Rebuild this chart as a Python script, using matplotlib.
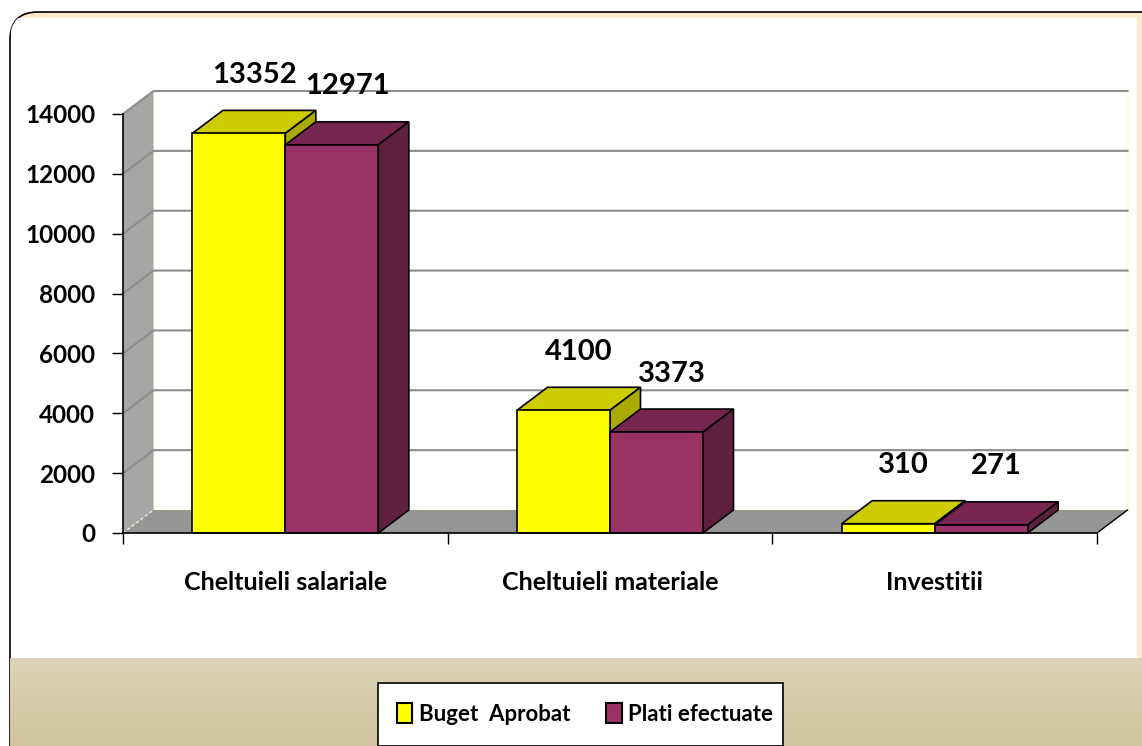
import numpy as np
import matplotlib
matplotlib.use("Agg")
import matplotlib.pyplot as plt
from matplotlib.patches import Polygon, Rectangle, FancyBboxPatch

categories = ["Cheltuieli salariale", "Cheltuieli materiale", "Investitii"]
series_names = ["Buget  Aprobat", "Plati efectuate"]
buget = [13352, 4100, 310]
plati = [12971, 3373, 271]
yticks = [0, 2000, 4000, 6000, 8000, 10000, 12000, 14000]

plt.rcParams['font.family'] = ['Lato', 'DejaVu Sans']
plt.rcParams['font.weight'] = 'bold'

W, H = 1142, 746
fig = plt.figure(figsize=(W / 100, H / 100), dpi=100)

# background panel (pixel coords)
bg = fig.add_axes([0, 0, 1, 1], zorder=0)
bg.set_xlim(0, W)
bg.set_ylim(0, H)
bg.axis("off")
panel = FancyBboxPatch((10, -30), W + 30, H - 12 + 30,
                       boxstyle="round,pad=0,rounding_size=28",
                       facecolor="#fcebd0", edgecolor="black", lw=1.2)
bg.add_patch(panel)
grad = np.linspace(0, 1, 100).reshape(-1, 1)
cmap = matplotlib.colors.LinearSegmentedColormap.from_list("b", ["#d1c39e", "#ddd3b6"])
im = bg.imshow(grad, extent=[0, W, 0, 88], origin="lower", cmap=cmap,
               aspect="auto", zorder=1)
im.set_clip_path(panel)
white = Rectangle((11, 88), 1126, H - 18 - 88, facecolor="white",
                  edgecolor="none", zorder=1.5)
white.set_clip_path(panel)
bg.add_patch(white)
# legend box
bg.add_patch(Rectangle((378, 0), 405, H - 683, facecolor="white",
                       edgecolor="black", lw=1.2, zorder=2))

# chart axes = front plane
ax = fig.add_axes([123 / W, 213 / H, 974 / W, 419 / H], zorder=1)
ax.set_xlim(0, 3)
ax.set_ylim(0, 14000)
ax.patch.set_visible(False)
ymax = 14000

# depth offset in data units
DX = 30.5 / (974 / 3)
DY = 23 * 14000 / 419
bw = 93 / (974 / 3)

# back wall, left wall, floor
ax.add_patch(Polygon([(DX, DY), (3 + DX, DY), (3 + DX, ymax + DY), (DX, ymax + DY)],
                     closed=True, facecolor="white", edgecolor="#fffde0", lw=1.5,
                     clip_on=False, zorder=0.5))
ax.add_patch(Polygon([(0, 0), (DX, DY), (DX, ymax + DY), (0, ymax)], closed=True,
                     facecolor="#a6a6a6", edgecolor="none", clip_on=False, zorder=0.6))
ax.add_patch(Polygon([(0, 0), (3, 0), (3 + DX, DY), (DX, DY)], closed=True,
                     facecolor="#969696", edgecolor="none", clip_on=False, zorder=0.6))
ax.plot([3, 3 + DX], [0, DY], color="black", lw=1, clip_on=False, zorder=0.7)
ax.plot([0, DX], [0, DY], color="#f4f0c8", lw=1, ls=(0, (2, 2)), clip_on=False, zorder=0.7)
ax.plot([0, DX], [ymax, ymax + DY], color="#f4f0c8", lw=1, ls=(0, (2, 2)), clip_on=False, zorder=0.7)
for t in yticks[1:]:
    ax.plot([0, DX, 3 + DX], [t, t + DY, t + DY], color="#8c8c8c", lw=1.5,
            clip_on=False, zorder=0.7)

colors = [("#ffff00", "#cccc00", "#aaaa00"), ("#993366", "#77264f", "#5f1f3f")]


def bar3d(x0, v, cols, z):
    front, top, side = cols
    ax.add_patch(Polygon([(x0, v), (x0 + bw, v), (x0 + bw + DX, v + DY), (x0 + DX, v + DY)],
                         closed=True, facecolor=top, edgecolor="black", lw=1.2,
                         clip_on=False, zorder=z))
    ax.add_patch(Polygon([(x0 + bw, 0), (x0 + bw + DX, DY), (x0 + bw + DX, v + DY), (x0 + bw, v)],
                         closed=True, facecolor=side, edgecolor="black", lw=1.2,
                         clip_on=False, zorder=z))
    ax.add_patch(Rectangle((x0, 0), bw, v, facecolor=front, edgecolor="black",
                           lw=1.2, clip_on=False, zorder=z + 0.1))
    ax.text(x0 + bw / 2 + DX / 2, v + DY + 750, f"{v}", ha="center", va="bottom",
            fontsize=21, fontweight="bold", zorder=5)


for i in range(len(categories)):
    c = i + 0.5
    bar3d(c - bw, buget[i], colors[0], 2)
    bar3d(c, plati[i], colors[1], 3)

ax.set_yticks(yticks)
ax.set_yticklabels([str(t) for t in yticks])
ax.set_xticks([0, 1, 2, 3], minor=False)
ax.set_xticklabels([])
ax.set_xticks([0.5, 1.5, 2.5], minor=True)
ax.set_xticklabels(categories, minor=True)
ax.tick_params(axis="x", which="minor", length=0, pad=27, labelsize=18)
ax.tick_params(axis="x", which="major", length=8, width=1, direction="out")
ax.tick_params(axis="y", length=8, width=1, direction="out", pad=12, labelsize=17.5)
for s in ["top", "right"]:
    ax.spines[s].set_visible(False)
ax.spines["left"].set_linewidth(1.2)
ax.spines["bottom"].set_linewidth(1.2)
ax.spines["left"].set_zorder(4)
ax.spines["bottom"].set_zorder(4)

# legend
handles = [Rectangle((0, 0), 1, 1, facecolor=colors[k][0], edgecolor="black", lw=1.5)
           for k in range(2)]
fig.legend(handles, series_names, loc="center", bbox_to_anchor=(585 / W, (H - 714) / H),
           ncol=2, frameon=False, handlelength=0.7, handleheight=1.0,
           handletextpad=0.3, columnspacing=1.6, prop={"weight": "bold", "size": 16})

fig.savefig("out.png", dpi=100)
